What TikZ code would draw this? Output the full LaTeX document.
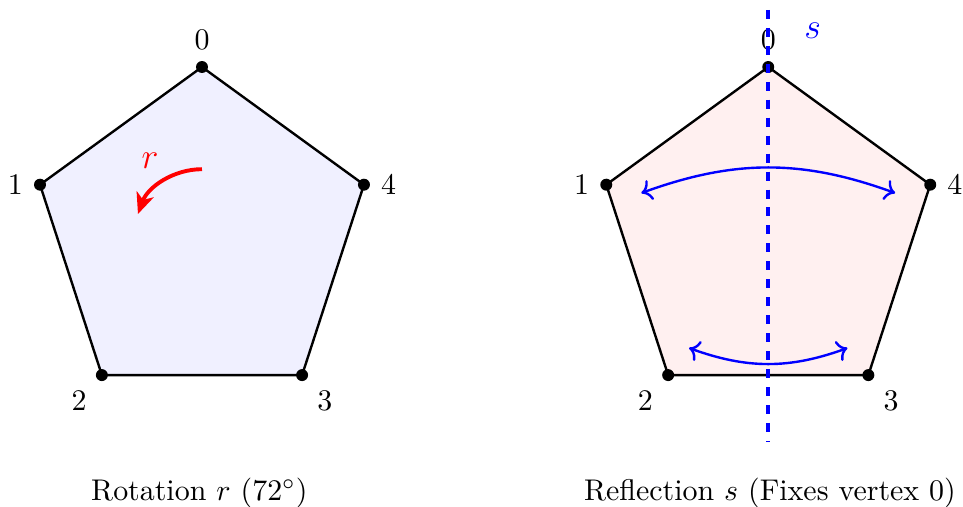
\documentclass[tikz,border=0pt]{standalone}
\usetikzlibrary{arrows.meta}
\begin{document}
\begin{tikzpicture}[
  vtx/.style={circle,fill=black,inner sep=0pt,minimum size=4pt},
  pent/.style={draw=black,thick,line join=round},
  rotarrow/.style={red,line width=1.3pt,-{Stealth[length=7pt,width=6pt,inset=2pt]}},
  refarrow/.style={blue,line width=0.8pt,<->},
  axis/.style={blue,line width=1.2pt,dashed},
  caption/.style={font=\normalsize}
]
\useasboundingbox (-2.372,-3.156) rectangle (8.937,2.787);

% Left pentagon: rotation
\begin{scope}
  \filldraw[pent,fill=blue!6] (90:2) -- (162:2) -- (234:2) -- (306:2) -- (18:2) -- cycle;
  \node[vtx,label=above:0] (L0) at (90:2) {};
  \node[vtx,label=left:1] (L1) at (162:2) {};
  \node[vtx,label=below left:2] (L2) at (234:2) {};
  \node[vtx,label=below right:3] (L3) at (306:2) {};
  \node[vtx,label=right:4] (L4) at (18:2) {};
  \coordinate (Rs) at (90:0.8);
  \draw[rotarrow] (Rs) arc[start angle=90,end angle=160,radius=0.8];
  \node[red,font=\large] (rlab) at (-0.61,0.9) {$r$};
  \node[caption] (Lcap) at (-0.03,-3) {Rotation $r$ ($72^\circ$)};
\end{scope}

% Right pentagon: reflection
\begin{scope}[shift={(6.65,0)}]
  \filldraw[pent,fill=red!6] (90:2) -- (162:2) -- (234:2) -- (306:2) -- (18:2) -- cycle;
  \node[vtx,label=above:0] (R0) at (90:2) {};
  \node[vtx,label=left:1] (R1) at (162:2) {};
  \node[vtx,label=below left:2] (R2) at (234:2) {};
  \node[vtx,label=below right:3] (R3) at (306:2) {};
  \node[vtx,label=right:4] (R4) at (18:2) {};
  \coordinate (At) at (0,2.67);
  \coordinate (Ab) at (0,-2.4);
  \draw[axis] (At) -- (Ab);
  \node[blue,font=\large] (slab) at (0.52,2.42) {$s$};
  \coordinate (U1) at (-1.49,0.52);
  \coordinate (U4) at (1.49,0.52);
  \coordinate (D2) at (-0.93,-1.30);
  \coordinate (D3) at (0.93,-1.30);
  \draw[refarrow] (U1) to[bend left=20] (U4);
  \draw[refarrow] (D2) to[bend right=20] (D3);
  \node[caption] (Rcap) at (0.02,-3) {Reflection $s$ (Fixes vertex 0)};
\end{scope}
\end{tikzpicture}
\end{document}
